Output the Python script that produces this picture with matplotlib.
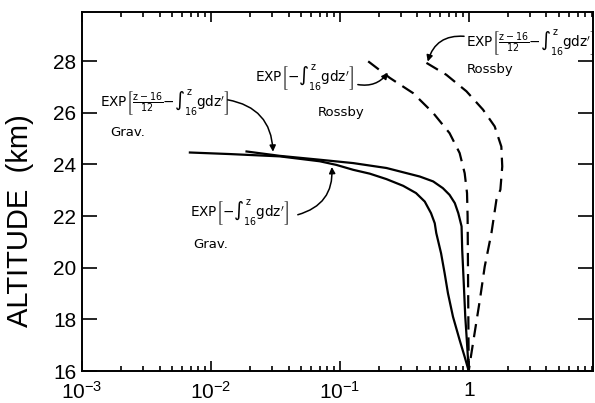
import matplotlib
matplotlib.use('Agg')
import matplotlib.pyplot as plt
import numpy as np
from matplotlib.ticker import LogLocator, NullFormatter

plt.rcParams['font.family'] = ['Liberation Sans', 'DejaVu Sans']
plt.rcParams['mathtext.fontset'] = 'custom'
plt.rcParams['mathtext.rm'] = 'Liberation Sans'
plt.rcParams['mathtext.it'] = 'Liberation Sans'
plt.rcParams['mathtext.bf'] = 'Liberation Sans:bold'

# gravity wave curves (x = amplitude factor, z = altitude km)
grav_x = [0.00687, 0.014, 0.0343, 0.07, 0.094, 0.127, 0.171, 0.23, 0.31, 0.39, 0.456,
          0.51, 0.545, 0.56, 0.61, 0.65, 0.69, 0.755, 0.85, 0.93, 1.0]
grav_z = [24.46, 24.40, 24.31, 24.12, 23.98, 23.79, 23.64, 23.43, 23.17, 22.89, 22.56,
          22.11, 21.72, 21.34, 20.56, 19.79, 19.01, 18.1, 17.2, 16.55, 16.0]

grav12_x = [0.0189, 0.0343, 0.07, 0.127, 0.23, 0.417, 0.53, 0.63, 0.71, 0.78, 0.83,
            0.88, 0.89, 0.915, 0.94, 0.97, 1.0]
grav12_z = [24.5, 24.33, 24.18, 24.05, 23.86, 23.53, 23.34, 23.08, 22.82, 22.5, 22.11,
            21.6, 20.69, 19.4, 18.1, 17.07, 16.0]

# rossby wave curves
ross_x = [0.166, 0.244, 0.37, 0.53, 0.71, 0.85, 0.93, 0.97, 0.98, 0.985, 0.99, 1.0]
ross_z = [27.99, 27.35, 26.76, 25.99, 25.21, 24.44, 23.66, 22.89, 22.0, 20.5, 19.0, 16.0]

ross12_x = [0.47, 0.67, 0.96, 1.29, 1.59, 1.79, 1.82, 1.76, 1.64, 1.5, 1.33, 1.22,
            1.11, 1.02, 1.0]
ross12_z = [27.93, 27.47, 26.83, 26.12, 25.47, 24.69, 23.92, 23.02, 22.63, 21.34, 20.04,
            18.75, 17.46, 16.3, 16.0]

xticks = [1e-3, 1e-2, 1e-1, 1]
xtick_labels = ['$10^{-3}$', '$10^{-2}$', '$10^{-1}$', '1']
yticks = [16, 18, 20, 22, 24, 26, 28]

fig = plt.figure(figsize=(5.95, 4.03), dpi=100)
ax = fig.add_axes([0.1378, 0.0794, 0.8588, 0.8908])

lw = 1.6
ax.plot(grav_x, grav_z, color='black', lw=lw)
ax.plot(grav12_x, grav12_z, color='black', lw=lw)
ax.plot(ross_x, ross_z, color='black', lw=lw, dashes=(6, 3.5))
ax.plot(ross12_x, ross12_z, color='black', lw=lw, dashes=(6, 3.5))

ax.set_xscale('log')
ax.set_xlim(1e-3, 9.2)
ax.set_ylim(16, 29.9)

ax.set_xticks(xticks)
ax.set_xticklabels(xtick_labels)
ax.xaxis.set_minor_locator(LogLocator(base=10, subs=np.arange(2, 10), numticks=20))
ax.xaxis.set_minor_formatter(NullFormatter())
ax.set_yticks(yticks)
ax.set_yticklabels([str(v) for v in yticks])

ax.tick_params(axis='both', which='both', direction='in', top=True, right=True, width=1.2)
ax.tick_params(axis='x', which='major', length=7, pad=7, labelsize=15)
ax.tick_params(axis='x', which='minor', length=3.5)
ax.tick_params(axis='y', which='major', length=11, pad=4, labelsize=15)
for s in ax.spines.values():
    s.set_linewidth(1.4)

ax.set_ylabel('ALTITUDE  (km)', fontsize=21)
ax.yaxis.set_label_coords(-0.094, 0.42)

tfs = 9.8
lab_full = (r'EXP$\left[\frac{\mathrm{z-16}}{12}{-}\int_{16}^{\mathrm{z}}'
            r'\mathrm{gdz}^{\prime}\right]$')
lab_int = r'EXP$\left[{-}\int_{16}^{\mathrm{z}}\mathrm{gdz}^{\prime}\right]$'
tkw = dict(ha='left', va='center', math_fontfamily='dejavusans', family='DejaVu Sans')

ax.text(1.38e-3, 26.39, lab_full, fontsize=tfs, **tkw)
ax.text(1.65e-3, 25.22, 'Grav.', fontsize=9.5, **tkw)
ax.text(0.00687, 22.12, lab_int, fontsize=tfs, **tkw)
ax.text(0.00725, 20.88, 'Grav.', fontsize=9.5, **tkw)
ax.text(0.0219, 27.36, lab_int, fontsize=tfs, **tkw)
ax.text(0.0675, 26.0, 'Rossby', fontsize=9.5, **tkw)
ax.text(0.96, 28.71, lab_full, fontsize=tfs, **tkw)
ax.text(0.97, 27.67, 'Rossby', fontsize=9.5, **tkw)

arw = dict(arrowstyle='-|>', color='black', lw=1.1, mutation_scale=9, shrinkA=0, shrinkB=0)
ax.annotate('', xy=(0.0303, 24.49), xytext=(0.0135, 26.5),
            arrowprops=dict(arw, connectionstyle='arc3,rad=-0.4'))
ax.annotate('', xy=(0.0867, 23.9), xytext=(0.0472, 22.05),
            arrowprops=dict(arw, connectionstyle='arc3,rad=0.4'))
ax.annotate('', xy=(0.236, 27.55), xytext=(0.138, 27.09),
            arrowprops=dict(arw, connectionstyle='arc3,rad=0.3'))
ax.annotate('', xy=(0.481, 27.98), xytext=(0.92, 28.96),
            arrowprops=dict(arw, connectionstyle='arc3,rad=0.4'))

fig.savefig('out.png', dpi=100)
